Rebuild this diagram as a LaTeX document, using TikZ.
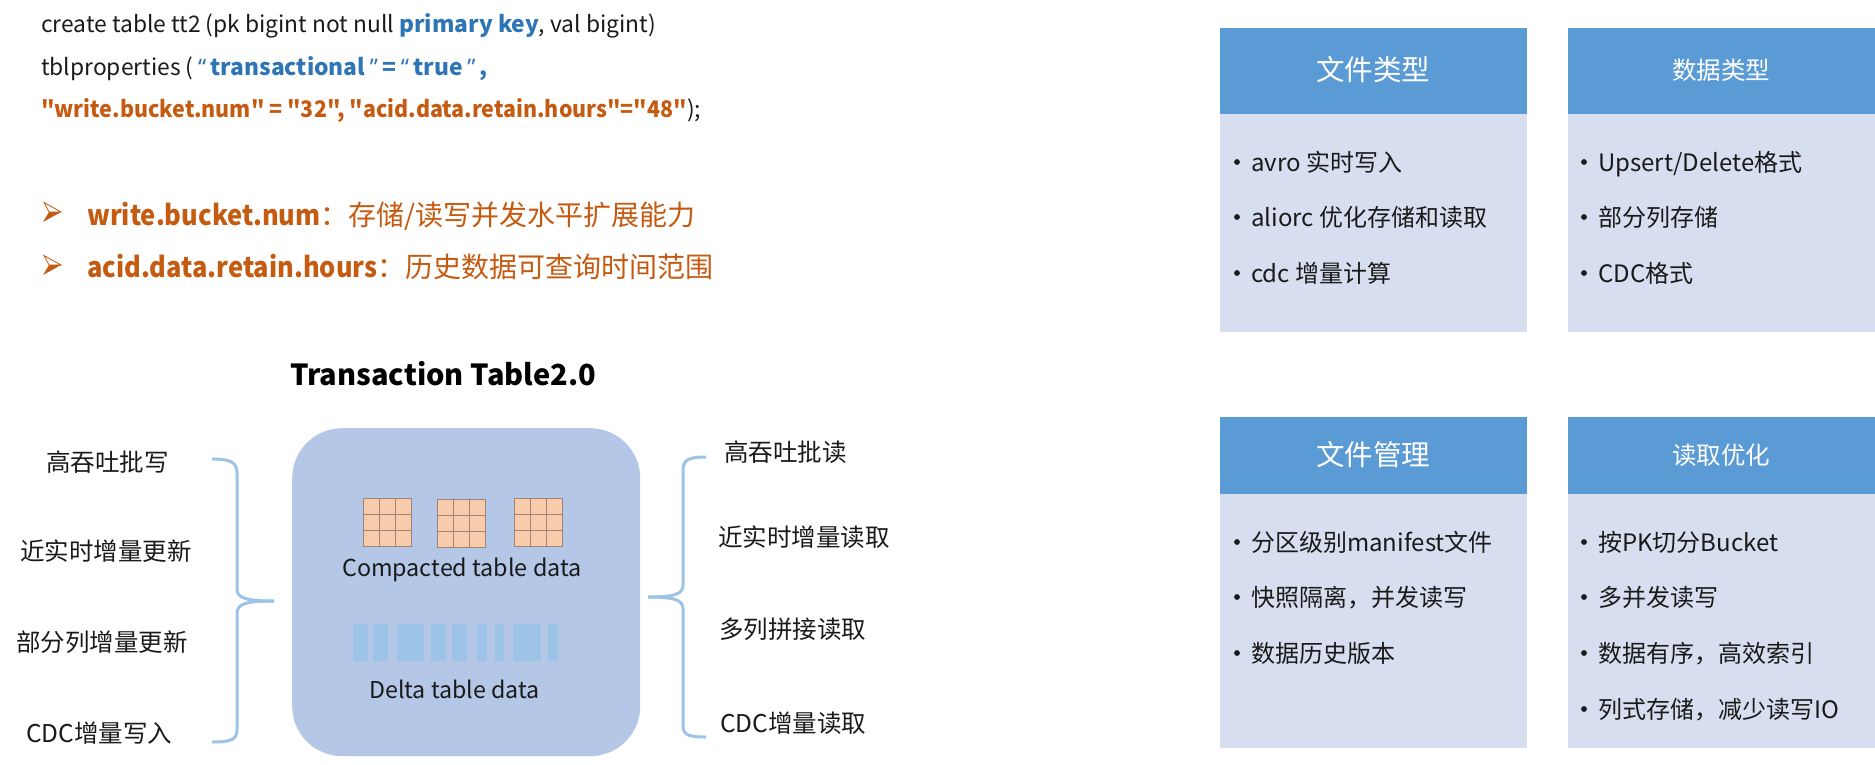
\documentclass[tikz,border=0pt]{standalone}
\usepackage{fontspec}
\setmainfont{Noto Sans CJK SC}
\newfontfamily\codefont{Noto Sans CJK SC}[Ligatures=TeXOff]
\newfontfamily\latfont{Noto Sans}[Ligatures=TeXOff]
\definecolor{cblue}{HTML}{2E75B6}
\definecolor{corange}{HTML}{C55A11}
\definecolor{hdrblue}{HTML}{5B9BD5}
\definecolor{bodyblue}{HTML}{D6DEEF}
\definecolor{bigblue}{HTML}{B4C7E7}
\definecolor{barblue}{HTML}{9DC3E6}
\definecolor{peach}{HTML}{F8CBAD}
\definecolor{gridline}{HTML}{A08573}
\definecolor{txt}{HTML}{1A1A1A}
\tikzset{
  lbl/.style={anchor=base west, inner sep=0, text=txt},
  fs/.style={font=\fontsize{#1}{#1}\selectfont},
  codefs/.style={font=\codefont\fontsize{#1}{#1}\selectfont},
  hdr/.style={fill=hdrblue, draw=none, anchor=north west, inner sep=0, minimum width=307, minimum height=86},
  bodybox/.style={fill=bodyblue, draw=none, anchor=north west, inner sep=0, minimum width=307},
  hdrtext/.style={anchor=base, inner sep=0, text=white},
  bracestyle/.style={draw=barblue, line width=3pt},
  gridbox/.style={fill=peach, draw=gridline, line width=0.8pt, minimum size=48, inner sep=0},
  bar/.style={fill=barblue, draw=none}
}
\newcommand{\mkgrid}[3]{%
  \node[gridbox] (#1) at (#2,#3) {};
  \draw[gridline, line width=0.8pt] (#2-8,#3-24) -- (#2-8,#3+24) (#2+8,#3-24) -- (#2+8,#3+24)
     (#2-24,#3-8) -- (#2+24,#3-8) (#2-24,#3+8) -- (#2+24,#3+8);
}
\newcommand{\bdot}[2]{\fill[txt] (#1,#2) circle (2.9);}
\newcommand{\arrowhd}[2]{%
  \draw[corange, line width=0.8pt, fill=white] (#1+1,#2-9.5) -- (#1+18,#2) -- (#1+6,#2) -- cycle;
  \fill[corange] (#1+6,#2) -- (#1+18,#2) -- (#1,#2+10) -- cycle;
}
\newcommand{\myLQ}{{\hspace{4.5pt}\latfont “\hspace{4.5pt}}}
\newcommand{\myRQ}{{\hspace{4.5pt}\latfont ”\hspace{4.5pt}}}
\newcommand{\nb}[1]{\scalebox{0.91}[1]{\bfseries #1}}
\begin{document}
\begin{tikzpicture}[x=1pt,y=-1pt]
\useasboundingbox (0,0) rectangle (1875,764);

% code lines
\node[lbl, codefs=22.8] (l1) at (41,32) {create table tt2 (pk bigint not null \textcolor{cblue}{\bfseries primary key}, val bigint)};
\node[lbl, codefs=22.8] (l2) at (41,75) {tblproperties (\textcolor{cblue}{\bfseries \myLQ transactional\myRQ=\myLQ true\myRQ,}};
\node[lbl, codefs=22.8] (l3) at (41,117) {\textcolor{corange}{\scalebox{0.94}[1]{\bfseries "write.bucket.num" = "32", "acid.data.retain.hours"="48"}});};

% bullets
\arrowhd{43}{212}
\arrowhd{43}{265}
\node[lbl, fs=28, text=corange] (b1) at (87,225) {\nb{write.bucket.num}：存储/读写并发水平扩展能力};
\node[lbl, fs=28, text=corange] (b2) at (87,277) {\nb{acid.data.retain.hours}：历史数据可查询时间范围};

% title
\node[lbl, fs=29, text=black] (title) at (290,385) {\bfseries Transaction Table2.0};

% big rounded box
\node[fill=bigblue, draw=none, rounded corners=50, minimum width=348, minimum height=328, inner sep=0, anchor=north west] (big) at (292,428) {};

% grids
\mkgrid{g1}{387}{522}
\mkgrid{g2}{461}{523}
\mkgrid{g3}{538}{522}
\node[lbl, fs=23.3] (comp) at (342,576) {Compacted table data};

% delta bars
\foreach \a/\b in {353/368,373/388,397/424,431/446,452/467,477/487,495/504,513/541,548/558}{
  \fill[bar] (\a,624) rectangle (\b,661);
}
\node[lbl, fs=23.2] (delta) at (369,698) {Delta table data};

% left labels
\node[lbl, fs=24.5] (w1) at (46,471) {高吞吐批写};
\node[lbl, fs=24.5] (w2) at (20,560) {近实时增量更新};
\node[lbl, fs=24.5] (w3) at (16,651) {部分列增量更新};
\node[lbl, fs=24.5] (w4) at (26,742) {CDC增量写入};

% right labels
\node[lbl, fs=24.5] (r1) at (724,461) {高吞吐批读};
\node[lbl, fs=24.5] (r2) at (718,546) {近实时增量读取};
\node[lbl, fs=24.5] (r3) at (719,638) {多列拼接读取};
\node[lbl, fs=24.5] (r4) at (720,732) {CDC增量读取};

% braces
\coordinate (lbTop) at (212,459);
\coordinate (lbTip) at (274,601);
\coordinate (lbBot) at (212,742);
\draw[bracestyle] (lbTop) .. controls (230,459) and (237,462) .. (237,473) -- (237,589) .. controls (237,598) and (246,601) .. (lbTip);
\draw[bracestyle] (lbTip) .. controls (246,601) and (237,604) .. (237,613) -- (237,730) .. controls (237,740) and (230,742) .. (lbBot);
\coordinate (rbTop) at (706,457);
\coordinate (rbTip) at (648,597);
\coordinate (rbBot) at (706,737);
\draw[bracestyle] (rbTop) .. controls (688,457) and (683,460) .. (683,471) -- (683,585) .. controls (683,594) and (675,597) .. (rbTip);
\draw[bracestyle] (rbTip) .. controls (675,597) and (683,600) .. (683,609) -- (683,725) .. controls (683,735) and (688,737) .. (rbBot);

% panels top
\node[bodybox, minimum height=304] (p1body) at (1220,28) {};
\node[hdr] (p1) at (1220,28) {};
\node[hdrtext, fs=28.5] (p1t) at (1373,80) {文件类型};
\node[bodybox, minimum height=304] (p2body) at (1568,28) {};
\node[hdr] (p2) at (1568,28) {};
\node[hdrtext, fs=24.5] (p2t) at (1721,79) {数据类型};

\bdot{1237}{162}\node[lbl, fs=24] (i11) at (1251,171) {avro 实时写入};
\bdot{1237}{217}\node[lbl, fs=24] (i12) at (1251,226) {aliorc 优化存储和读取};
\bdot{1237}{273}\node[lbl, fs=24] (i13) at (1251,282) {cdc 增量计算};
\bdot{1584}{162}\node[lbl, fs=24] (i21) at (1598,171) {Upsert/Delete格式};
\bdot{1584}{217}\node[lbl, fs=24] (i22) at (1598,226) {部分列存储};
\bdot{1584}{273}\node[lbl, fs=24] (i23) at (1598,282) {CDC格式};

% panels bottom
\node[bodybox, minimum height=331] (p3body) at (1220,417) {};
\node[hdr, minimum height=77] (p3) at (1220,417) {};
\node[hdrtext, fs=28.5] (p3t) at (1373,465) {文件管理};
\node[bodybox, minimum height=331] (p4body) at (1568,417) {};
\node[hdr, minimum height=77] (p4) at (1568,417) {};
\node[hdrtext, fs=24.5] (p4t) at (1721,464) {读取优化};

\bdot{1237}{542}\node[lbl, fs=24] (i31) at (1251,551) {分区级别manifest文件};
\bdot{1237}{597}\node[lbl, fs=24] (i32) at (1251,606) {快照隔离，并发读写};
\bdot{1237}{653}\node[lbl, fs=24] (i33) at (1251,662) {数据历史版本};
\bdot{1584}{542}\node[lbl, fs=24] (i41) at (1598,551) {按PK切分Bucket};
\bdot{1584}{597}\node[lbl, fs=24] (i42) at (1598,606) {多并发读写};
\bdot{1584}{653}\node[lbl, fs=24] (i43) at (1598,662) {数据有序，高效索引};
\bdot{1584}{709}\node[lbl, fs=24] (i44) at (1598,718) {列式存储，减少读写IO};
\end{tikzpicture}
\end{document}
